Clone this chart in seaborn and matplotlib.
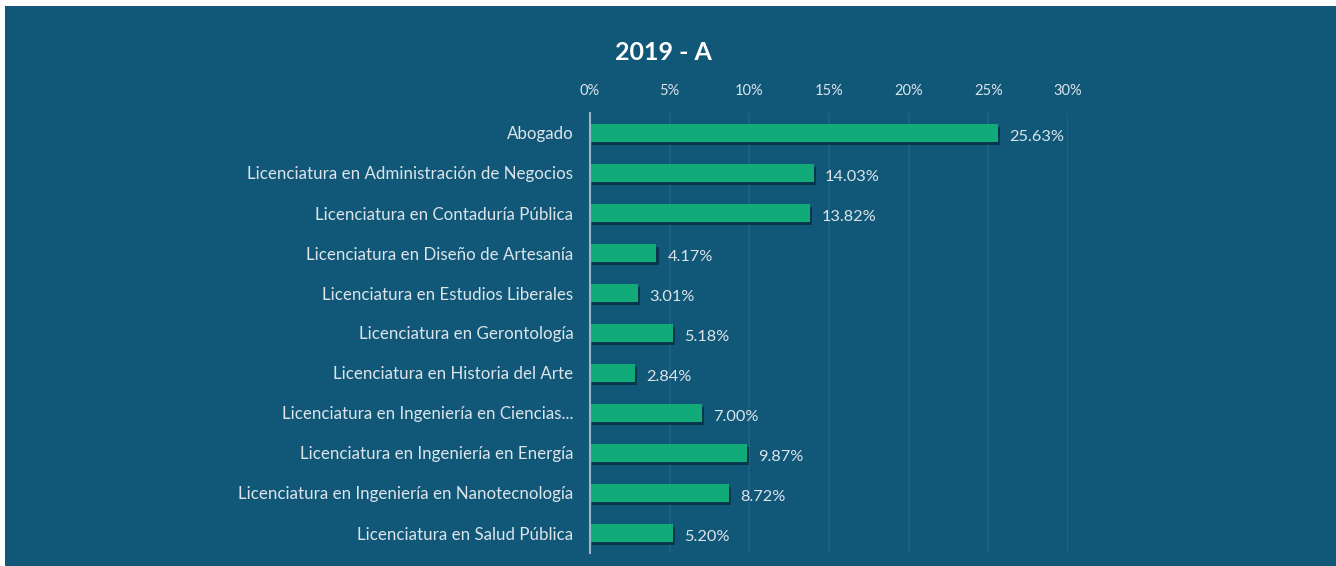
import matplotlib
matplotlib.use("Agg")
import matplotlib.pyplot as plt
import matplotlib.patheffects as pe
from matplotlib.patches import Rectangle
from matplotlib.ticker import FuncFormatter
import seaborn as sns
import pandas as pd

programas = [
    "Abogado",
    "Licenciatura en Administración de Negocios",
    "Licenciatura en Contaduría Pública",
    "Licenciatura en Diseño de Artesanía",
    "Licenciatura en Estudios Liberales",
    "Licenciatura en Gerontología",
    "Licenciatura en Historia del Arte",
    "Licenciatura en Ingeniería en Ciencias...",
    "Licenciatura en Ingeniería en Energía",
    "Licenciatura en Ingeniería en Nanotecnología",
    "Licenciatura en Salud Pública",
]
porcentajes = [25.63, 14.03, 13.82, 4.17, 3.01, 5.18, 2.84, 7.00, 9.87, 8.72, 5.20]
ticks_x = [0, 5, 10, 15, 20, 25, 30]
titulo = "2019 - A"

FONDO = "#115878"
VERDE = "#10ab78"
TEXTO = "#dce4ea"

sns.set_theme(style="white")
plt.rcParams["font.family"] = ["Lato", "DejaVu Sans"]

df = pd.DataFrame({"programa": programas, "porcentaje": porcentajes})

fig = plt.figure(figsize=(13.36, 5.66), dpi=100, facecolor="white")
fig.patches.append(Rectangle((5 / 1336, 0), 1, 1 - 6 / 566, transform=fig.transFigure,
                             facecolor=FONDO, edgecolor="none", zorder=-10))

ax = fig.add_axes([590 / 1336, 1 - 553 / 566, 478 / 1336, 440 / 566])
ax.set_facecolor("none")

sns.barplot(data=df, x="porcentaje", y="programa", orient="h", color=VERDE,
            width=0.46, saturation=1, ax=ax, zorder=3)

for bar in ax.patches:
    bar.set_edgecolor("none")
    bar.set_path_effects([pe.SimplePatchShadow(offset=(1.5, -2), shadow_rgbFace="#072a40",
                                               alpha=0.75), pe.Normal()])

for i, v in enumerate(porcentajes):
    ax.text(v + 0.7, i + 0.1, f"{v:.2f}%", va="center", ha="left",
            color=TEXTO, fontsize=11.8)

ax.set_xlim(0, 30)
ax.set_ylim(10.5, -0.5)
ax.set_xticks(ticks_x)
ax.xaxis.set_major_formatter(FuncFormatter(lambda x, _: f"{x:.0f}%"))
ax.xaxis.tick_top()
ax.tick_params(axis="x", length=0, pad=11, labelsize=10.5, labelcolor=TEXTO)
ax.tick_params(axis="y", length=0, pad=12, labelsize=12.2, labelcolor=TEXTO)
ax.set_xlabel("")
ax.set_ylabel("")

ax.grid(axis="x", color="#1f6484", linewidth=1.2, zorder=0)
ax.grid(axis="y", visible=False)
for s in ["top", "right", "bottom"]:
    ax.spines[s].set_visible(False)
ax.spines["left"].set_color("#9fb4c4")
ax.spines["left"].set_linewidth(1.5)
ax.spines["left"].set_zorder(4)

fig.text(663 / 1336, 1 - 52 / 566, titulo, ha="center", va="center",
         fontsize=18, fontweight="bold", color="white")

fig.savefig("out.png", dpi=100, facecolor=fig.get_facecolor())
